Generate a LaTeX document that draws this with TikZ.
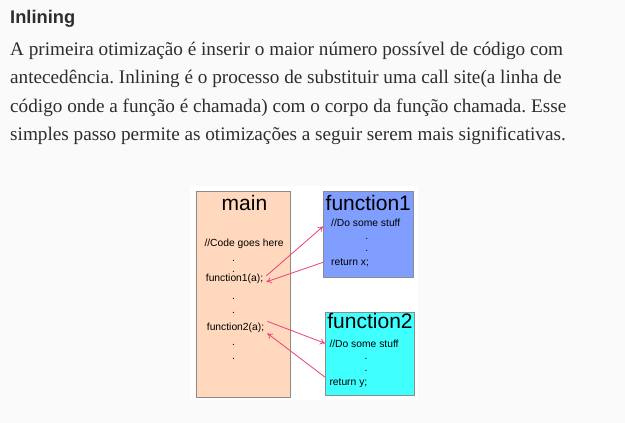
\documentclass[tikz,border=0pt]{standalone}
\usepackage{fontspec}
\setmainfont{Liberation Serif}
\setsansfont{Liberation Sans}
\usetikzlibrary{arrows.meta}
\definecolor{pagebg}{RGB}{250,250,250}
\definecolor{bodytext}{RGB}{45,45,45}
\definecolor{mainfill}{RGB}{255,216,190}
\definecolor{fnonefill}{RGB}{128,158,255}
\definecolor{fntwofill}{RGB}{64,255,255}
\definecolor{boxline}{RGB}{140,140,140}
\definecolor{callpink}{RGB}{236,64,122}
\tikzset{
  codebox/.style={draw=boxline,line width=0.8pt,anchor=north west,inner sep=0pt},
  boxtitle/.style={font=\sffamily\fontsize{21}{24}\selectfont,anchor=base,inner sep=0pt},
  codeline/.style={font=\sffamily\fontsize{10.3}{12}\selectfont,anchor=base west,inner sep=1pt},
  codedot/.style={font=\sffamily\fontsize{10.3}{12}\selectfont,anchor=base,inner sep=0pt},
  callarrow/.style={draw=callpink,line width=0.8pt,-{To[length=5pt,width=6pt]}}
}
\frenchspacing
\begin{document}
\begin{tikzpicture}[x=1pt,y=-1pt]
  \useasboundingbox[fill=pagebg] (0,0) rectangle (625,423);
  \fill[white] (190,186) rectangle (418,400);
  % text above the figure
  \node[anchor=base west,inner sep=0pt,font=\sffamily\bfseries\fontsize{18.3}{22}\selectfont,text=bodytext] (head) at (10,23.3) {Inlining};
  \node[anchor=north west,inner sep=0pt,align=left,font=\fontsize{19.2}{28.5}\selectfont,text=bodytext] (para) at (10,41.5)
    {A primeira otimização é inserir o maior número possível de código com\\
     antecedência. Inlining é o processo de substituir uma call site(a linha de\\
     código onde a função é chamada) com o corpo da função chamada. Esse\\
     simples passo permite as otimizações a seguir serem mais significativas.};
  % the three boxes
  \node[codebox,fill=mainfill,minimum width=94pt,minimum height=206pt] (mainbox) at (196,191) {};
  \node[codebox,fill=fnonefill,minimum width=90pt,minimum height=86pt] (fn1) at (323,191) {};
  \node[codebox,fill=fntwofill,minimum width=89pt,minimum height=83pt] (fn2) at (325,312) {};
  % main
  \node[boxtitle] (maintitle) at (244.5,210) {main};
  \node[codeline] (code) at (203.3,246.5) {//Code goes here};
  \node[codeline] (f1call) at (204.7,281.5) {function1(a);};
  \node[codeline] (f2call) at (205.7,330) {function2(a);};
  \foreach \y [count=\i] in {261.5,272.5,299.8,313,345.8,359}
    \node[codedot] (mdot\i) at (233.5,\y) {.};
  % function1
  \node[boxtitle] (fn1title) at (368.3,210) {function1};
  \node[codeline] (f1do) at (330,226.5) {//Do some stuff};
  \node[codeline] (r1) at (330,265) {return x;};
  \foreach \y [count=\i] in {239.5,251.5}
    \node[codedot] (fadot\i) at (366.7,\y) {.};
  % function2
  \node[boxtitle] (fn2title) at (370,328.3) {function2};
  \node[codeline] (f2do) at (328.3,347) {//Do some stuff};
  \node[codeline] (r2) at (328.3,385) {return y;};
  \foreach \y [count=\i] in {359,371.5}
    \node[codedot] (fbdot\i) at (366,\y) {.};
  % calls and returns
  \draw[callarrow] ([xshift=2pt,yshift=3pt]f1call.east) -- (fn1.west |- f1do.base);
  \draw[callarrow] (fn1.west |- r1) -- ([xshift=2pt,yshift=-3pt]f1call.east);
  \draw[callarrow] ([xshift=2pt]f2call.north east) -- (fn2.west |- f2do);
  \draw[callarrow] (fn2.west |- r2.north) -- ([xshift=2pt]f2call.south east);
\end{tikzpicture}
\end{document}
